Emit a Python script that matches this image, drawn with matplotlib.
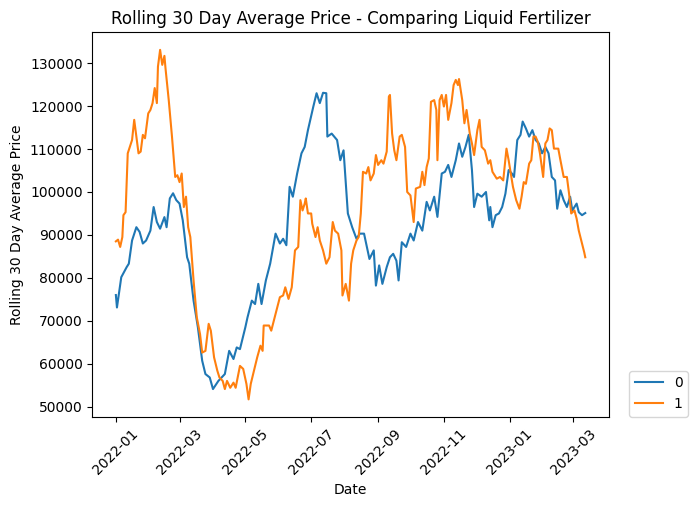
import pandas as pd
import matplotlib
matplotlib.use("Agg")
import matplotlib.pyplot as plt
import matplotlib.dates as mdates

start = pd.Timestamp("2022-01-01")

# series 0 - days since start / rolling average price
days0 = [0, 1, 5, 10, 12, 15, 19, 22, 25, 28, 32, 35, 38, 41, 45, 47, 50, 53, 56, 59,
         62, 66, 68, 72, 76, 80, 83, 87, 90, 95, 101, 105, 109, 112, 115, 120, 122, 126,
         129, 132, 135, 139, 143, 148, 152, 155, 158, 161, 164, 168, 172, 175, 178, 183,
         186, 189, 192, 195, 196, 200, 205, 208, 211, 215, 219, 223, 226, 230, 235, 239,
         241, 244, 247, 251, 254, 257, 260, 262, 265, 269, 273, 276, 280, 284, 288, 291,
         295, 298, 302, 305, 308, 311, 315, 318, 321, 324, 327, 330, 332, 335, 339, 343,
         346, 347, 349, 352, 355, 358, 361, 364, 367, 369, 372, 375, 377, 380, 383, 386,
         389, 392, 395, 398, 401, 404, 407, 409, 412, 415, 418, 421, 423, 427, 429, 432, 435]
vals0 = [76000, 73100, 80150, 82500, 83300, 88700, 91800, 90700, 88000, 88700, 91000, 96500,
         93000, 91450, 94150, 91800, 98500, 99700, 98100, 97300, 93400, 84800, 83300, 74700,
         68500, 60700, 57600, 56800, 54100, 56000, 57600, 63000, 61100, 63800, 63400, 68500,
         70800, 74700, 73900, 78600, 73900, 79400, 83300, 90300, 88000, 89100, 87600, 101200,
         98900, 104300, 109000, 110500, 114400, 119900, 123000, 120700, 123100, 123000, 112900,
         113600, 112100, 107400, 109700, 95000, 91800, 89100, 90300, 90300, 84400, 86400,
         78200, 82900, 78600, 82500, 84800, 85600, 84000, 79400, 88300, 87200, 90300, 88700,
         93000, 91000, 97700, 95700, 98900, 94200, 104300, 104700, 106300, 103500, 107400,
         111300, 108200, 110500, 113300, 105100, 96500, 99600, 98900, 100000, 93400, 96500,
         91800, 94600, 95000, 96500, 99600, 105100, 104300, 103500, 112100, 113300, 116400,
         114800, 112900, 114400, 112100, 111300, 109000, 110500, 109000, 103500, 102700, 96100,
         100400, 98100, 96500, 98900, 95700, 97300, 95300, 94600, 95100]

# series 1
days1 = [0, 2, 4, 6, 7, 9, 11, 15, 17, 19, 21, 23, 25, 27, 30, 32, 34, 36, 38, 39, 41, 43,
         45, 46, 49, 52, 55, 57, 59, 61, 63, 65, 67, 69, 72, 75, 78, 80, 83, 86, 88, 91, 94,
         96, 99, 101, 103, 106, 109, 111, 115, 118, 121, 123, 125, 128, 131, 134, 136, 137,
         142, 144, 148, 152, 155, 157, 160, 163, 166, 169, 171, 173, 175, 176, 178, 181, 182,
         185, 187, 189, 192, 195, 198, 201, 203, 206, 209, 210, 213, 216, 218, 220, 223, 225,
         227, 229, 232, 234, 236, 239, 241, 243, 246, 248, 251, 253, 254, 256, 258, 260, 263,
         265, 268, 270, 273, 276, 278, 282, 284, 286, 288, 290, 292, 295, 297, 298, 300, 302,
         304, 306, 308, 311, 313, 315, 317, 318, 321, 323, 325, 328, 330, 332, 335, 337, 339,
         342, 345, 347, 349, 353, 356, 359, 362, 364, 368, 371, 374, 376, 378, 380, 383, 385,
         387, 389, 391, 393, 396, 398, 400, 402, 404, 406, 410, 412, 415, 418, 420, 422, 425,
         427, 429, 432, 434, 435]
vals1 = [88500, 88900, 87200, 89500, 94600, 95300, 109000, 112100, 116800, 112900, 109000,
         109400, 113300, 112500, 118300, 119100, 120700, 124200, 120700, 129200, 133100, 129600,
         131700, 128800, 121400, 112900, 103500, 103900, 102300, 104300, 96500, 98900, 91800,
         89500, 79400, 70800, 66900, 62600, 63000, 69300, 67700, 61500, 58400, 56800, 56000,
         54100, 56000, 54400, 55600, 54400, 59500, 58800, 55300, 51700, 55300, 58400, 61500,
         64200, 63000, 68900, 68900, 67700, 71600, 75500, 75900, 77800, 75100, 77800, 86400,
         87200, 98100, 95700, 97300, 98500, 95000, 95000, 92600, 89500, 91800, 88700, 86400,
         83300, 84800, 93000, 91000, 90300, 86400, 75900, 78600, 74700, 83300, 86400, 88700,
         89500, 95000, 104700, 104300, 105800, 102700, 104300, 108600, 106300, 107400, 106600,
         109400, 122200, 122600, 113600, 109700, 107400, 112900, 113300, 110500, 100000, 99200,
         93000, 100800, 101200, 104700, 101600, 105800, 107800, 121000, 121400, 119100, 107400,
         121400, 122600, 119900, 122600, 116800, 120700, 124900, 126100, 124900, 126300, 121400,
         116000, 119100, 113600, 111300, 108600, 114400, 116800, 110500, 109700, 106600, 107400,
         104700, 103100, 103500, 102700, 110100, 107400, 101200, 98100, 96100, 98900, 102300,
         101900, 106600, 107400, 112900, 112900, 111700, 109000, 103500, 111300, 112100, 114800,
         114400, 110100, 110100, 107400, 103500, 103500, 99600, 95000, 95700, 93800, 91000,
         88000, 86000, 84800]

dates0 = start + pd.to_timedelta(days0, unit="D")
dates1 = start + pd.to_timedelta(days1, unit="D")

fig = plt.figure(figsize=(7, 5.14), dpi=100)
ax = fig.add_axes([0.132, 0.189, 0.7376, 0.748])
ax.plot(dates0, vals0, label="0")
ax.plot(dates1, vals1, label="1")

ax.xaxis.set_major_locator(mdates.MonthLocator(bymonth=[1, 3, 5, 7, 9, 11]))
ax.xaxis.set_major_formatter(mdates.DateFormatter("%Y-%m"))
plt.setp(ax.get_xticklabels(), rotation=45)

ax.set_title("Rolling 30 Day Average Price - Comparing Liquid Fertilizer")
ax.set_xlabel("Date")
ax.set_ylabel("Rolling 30 Day Average Price")
ax.legend(bbox_to_anchor=(1.04, 0), loc="lower left", borderaxespad=0)

fig.savefig("out.png", dpi=100)
